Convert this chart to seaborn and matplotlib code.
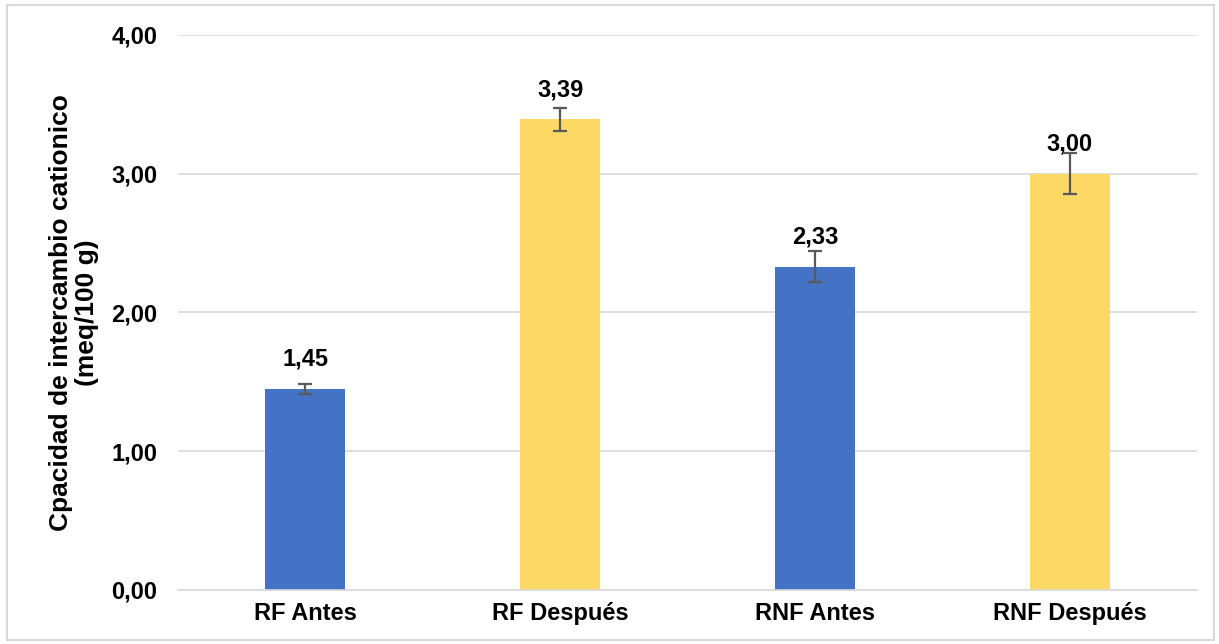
import matplotlib
matplotlib.use("Agg")
import matplotlib.pyplot as plt
import seaborn as sns
from matplotlib.patches import Rectangle

categorias = ["RF Antes", "RF Después", "RNF Antes", "RNF Después"]
valores = [1.45, 3.39, 2.33, 3.00]
errores = [0.035, 0.08, 0.11, 0.145]
etiquetas = ["1,45", "3,39", "2,33", "3,00"]
colores = ["#4472C4", "#FFD966", "#4472C4", "#FFD966"]
yticks = [0, 1, 2, 3, 4]
ytick_labels = ["0,00", "1,00", "2,00", "3,00", "4,00"]

sns.set_style("white")
plt.rcParams['font.family'] = ['Liberation Sans', 'DejaVu Sans']
plt.rcParams['font.weight'] = 'bold'
plt.rcParams['text.color'] = 'black'
plt.rcParams['axes.labelcolor'] = 'black'
plt.rcParams['xtick.color'] = 'black'
plt.rcParams['ytick.color'] = 'black'

fig = plt.figure(figsize=(12.19, 6.44), dpi=100)
ax = fig.add_axes([0.146, 0.084, 0.836, 0.862])

# borde del grafico
fig.patches.append(Rectangle((7 / 1219, 4 / 644), 1207 / 1219, 635 / 644,
                             transform=fig.transFigure, fill=False,
                             edgecolor="#D9D9D9", lw=1.5))

sns.barplot(x=categorias, y=valores, hue=categorias, palette=colores,
            legend=False, width=0.314, ax=ax, saturation=1, linewidth=0)
ax.errorbar(range(len(categorias)), valores, yerr=errores, fmt="none",
            ecolor="#595959", elinewidth=1.6, capsize=4.8, capthick=1.6, zorder=5)

for i, (v, t) in enumerate(zip(valores, etiquetas)):
    ax.annotate(t, (i, v), xytext=(0, 13), textcoords="offset points",
                ha="center", va="bottom", fontsize=17, fontweight="bold")

ax.set_ylim(0, 4)
ax.set_xlim(-0.5, 3.5)
ax.set_yticks(yticks)
ax.set_yticklabels(ytick_labels, fontsize=17, fontweight="bold")
ax.tick_params(axis="x", labelsize=17, length=0, pad=9)
ax.tick_params(axis="y", length=0, pad=15)
for lab in ax.get_xticklabels():
    lab.set_fontweight("bold")
ax.yaxis.grid(True, color="#D9D9D9", lw=1.2)
ax.set_axisbelow(True)
for s in ["top", "right", "left"]:
    ax.spines[s].set_visible(False)
ax.spines["bottom"].set_color("#D9D9D9")
ax.spines["bottom"].set_linewidth(1.2)
ax.set_xlabel("")
ax.set_ylabel("Cpacidad de intercambio cationico\n(meq/100 g)", fontsize=19,
              fontweight="bold", labelpad=9, linespacing=1.1)

fig.savefig("out.png", dpi=100)
